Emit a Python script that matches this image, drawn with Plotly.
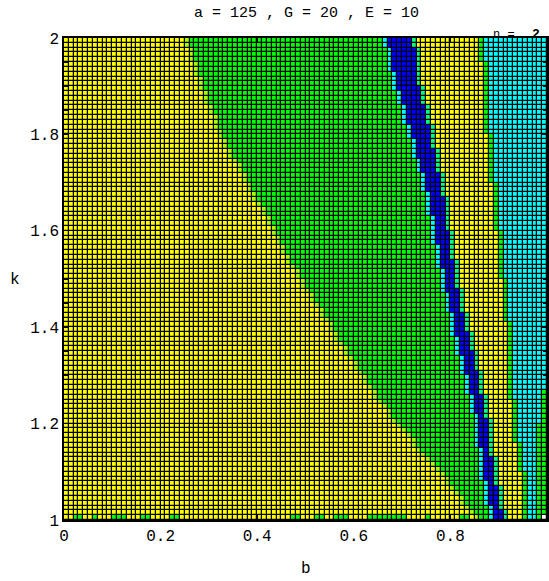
import numpy as np
import plotly.graph_objects as go

# ---- data ----
b_edges = np.round(np.arange(0, 1.0001, 0.01), 2)   # column edges (b)
k_edges = np.round(np.arange(1, 2.0001, 0.01), 2)   # row edges (k)

k_nodes     = [1.0, 1.1, 1.2, 1.3, 1.4, 1.5, 1.6, 1.7, 1.8, 1.9, 2.0]
yellow_green = [0.860, 0.786, 0.693, 0.623, 0.559, 0.493, 0.441, 0.384, 0.330, 0.291, 0.260]
blue_left    = [0.895, 0.876, 0.864, 0.841, 0.816, 0.794, 0.775, 0.755, 0.726, 0.697, 0.676]
blue_right   = [0.905, 0.884, 0.872, 0.852, 0.827, 0.806, 0.790, 0.775, 0.755, 0.730, 0.717]
cyan_left    = [0.965, 0.955, 0.938, 0.932, 0.926, 0.915, 0.905, 0.895, 0.885, 0.878, 0.872]
cyan_right   = [0.975, 0.980, 0.985, 1.000, 1.000, 1.000, 1.000, 1.000, 1.000, 1.000, 1.000]

bottom_green_cols = [2, 3, 6, 10, 11, 12, 16, 17, 22, 23, 47, 48, 52, 53, 56, 57, 58,
                     63, 64, 65, 66, 67, 68, 69, 70, 75, 82, 83]
bottom_white_cols = [99]

x_ticks = [0, 0.2, 0.4, 0.6, 0.8]
x_tick_text = ["0", "0.2", "0.4", "0.6", "0.8"]
y_ticks = [1, 1.2, 1.4, 1.6, 1.8, 2]
y_tick_text = ["1", "1.2", "1.4", "1.6", "1.8", "2"]

# category colours: 0 yellow,1 chartreuse,2 green,3 spring,4 cyan,5 azure,6 blue,7 white
cat_colors = ["#FFFF00", "#A8FF00", "#00FF00", "#00FF80", "#00FFFF", "#0080FF", "#0000FF", "#FFFFFF"]

# ---- build category field ----
nr, nc = len(k_edges) - 1, len(b_edges) - 1
z = np.zeros((nr, nc))
for i in range(nr):
    kc = (k_edges[i] + k_edges[i + 1]) / 2
    yg = np.interp(kc, k_nodes, yellow_green)
    bl = np.interp(kc, k_nodes, blue_left)
    br = np.interp(kc, k_nodes, blue_right)
    cl = np.interp(kc, k_nodes, cyan_left)
    cr = np.interp(kc, k_nodes, cyan_right)
    jy = int(round(yg * 100))
    jbl = int(np.floor(bl * 100))
    jbr = max(jbl, int(np.ceil(br * 100)) - 1)
    jcl = int(round(cl * 100))
    jcr = int(round(cr * 100))
    row = np.full(nc, 2.0)
    row[:jy] = 0
    if jy - 1 >= 0:
        row[jy - 1] = 1
    row[jbr + 1:jcl - 1] = 0
    row[jcl - 1] = 2
    row[jcl:jcr] = 4
    row[jcr:] = 2
    row[jbl:jbr + 1] = 6
    row[jbl - 1] = 4
    row[jbr + 1] = 3
    z[i] = row

for j in bottom_green_cols:
    z[0, j] = 2
for j in bottom_white_cols:
    z[0, j] = 7

n = len(cat_colors)
cs = []
for v, c in enumerate(cat_colors):
    cs.append([v / n, c])
    cs.append([(v + 1) / n, c])

fig = go.Figure(go.Heatmap(
    x=b_edges, y=k_edges, z=z, zmin=-0.5, zmax=n - 0.5,
    colorscale=cs, showscale=False, xgap=1.25, ygap=1.25, hoverinfo="skip"))

font_mono = "Liberation Mono"
fig.update_layout(
    width=549, height=581,
    margin=dict(l=64, r=0, t=38, b=61),
    paper_bgcolor="white", plot_bgcolor="black",
    title=dict(text="a = 125 , G = 20 , E = 10", x=306.5 / 549, xanchor="center",
               y=1 - 12 / 581, yanchor="middle", font=dict(family=font_mono, size=15, color="black")),
    font=dict(family=font_mono, size=16, color="black"),
    showlegend=False,
)
fig.update_xaxes(range=[0, 1], tickvals=x_ticks, ticktext=x_tick_text, ticks="inside", ticklen=5,
                 tickcolor="black", showline=True, linecolor="black", linewidth=1.5, mirror="allticks",
                 showgrid=False, zeroline=False, tickfont=dict(family=font_mono, size=16))
fig.update_yaxes(range=[1, 2], tickvals=y_ticks, ticktext=y_tick_text, ticks="inside", ticklen=5,
                 tickcolor="black", showline=True, linecolor="black", linewidth=1.5, mirror="allticks",
                 showgrid=False, zeroline=False, tickfont=dict(family=font_mono, size=16),
                 minor=dict(dtick=0.05, ticks="inside", ticklen=4, tickcolor="black"))
fig.add_annotation(text="b", xref="paper", yref="paper", x=0.5, y=-49 / 482, showarrow=False,
                   font=dict(family=font_mono, size=16), xanchor="center", yanchor="middle")
fig.add_annotation(text="k", xref="paper", yref="paper", x=-49 / 485, y=(520 - 280) / 482, showarrow=False,
                   font=dict(family=font_mono, size=16), xanchor="center", yanchor="middle")
fig.add_annotation(text="n =", xref="paper", yref="paper", x=(493 - 64) / 485, y=1, showarrow=False,
                   font=dict(family=font_mono, size=12), xanchor="left", yanchor="bottom", yshift=-6)
fig.add_annotation(text="<b>2</b>", xref="paper", yref="paper", x=(532 - 64) / 485, y=1, showarrow=False,
                   font=dict(family=font_mono, size=13), xanchor="left", yanchor="bottom", yshift=-6)

fig.write_html("out.html")
